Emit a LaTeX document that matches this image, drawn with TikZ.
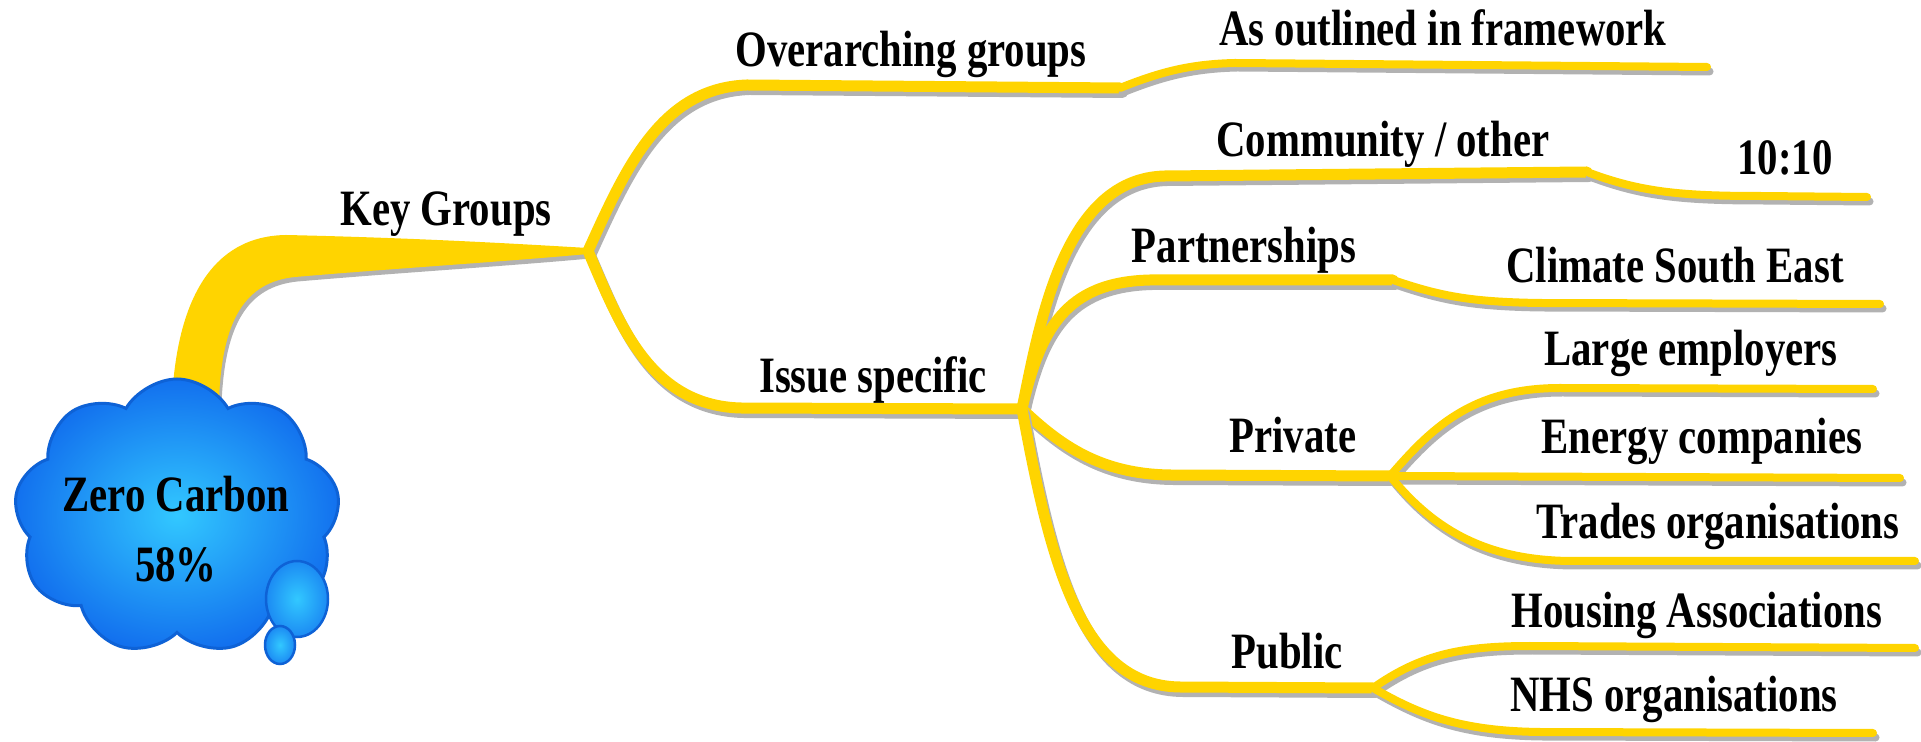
\documentclass[tikz,border=0pt]{standalone}
\usepackage{fontspec}
\setmainfont{Liberation Serif}[FakeStretch=0.8]
\usepackage{tikz}
\usetikzlibrary{shapes.symbols, shapes.geometric}
\definecolor{mapGold}{RGB}{255,212,0}
\definecolor{mapShadow}{RGB}{178,178,178}
\definecolor{cloudLight}{RGB}{50,200,255}
\definecolor{cloudDark}{RGB}{18,112,238}
\definecolor{cloudEdge}{RGB}{14,98,214}
\tikzset{
  mapline/.style={draw=mapGold, line width=#1, line cap=round,
    preaction={draw=mapShadow, line width=#1, line cap=round,
      transform canvas={shift={(0.25mm,-0.45mm)}}}},
  branch/.style={mapline=1.1mm},
  twig/.style={mapline=0.8mm},
  lbl/.style={anchor=base, inner sep=0pt, font=\bfseries\fontsize{14.5}{17}\selectfont},
  bubble/.style={ellipse, draw=cloudEdge, line width=0.25mm, inner sep=0pt,
    inner color=cloudLight, outer color=cloudDark!70!cloudLight}
}

\begin{document}
\begin{tikzpicture}[x=0.1mm, y=-0.1mm]
  \useasboundingbox (0,0) rectangle (1921,742);

  % junctions and line ends
  \coordinate (kg) at (588,251);
  \coordinate (og) at (1120,88);
  \coordinate (is) at (1022,409);
  \coordinate (co) at (1587,172);
  \coordinate (pa) at (1393,280);
  \coordinate (pv) at (1390,476);
  \coordinate (pb) at (1373,688);
  \coordinate (aoEnd) at (1707,67);
  \coordinate (ttEnd) at (1867,197);
  \coordinate (cseEnd) at (1880,304);
  \coordinate (leEnd) at (1873,389);
  \coordinate (ecEnd) at (1900,478);
  \coordinate (toEnd) at (1915,561);
  \coordinate (haEnd) at (1915,648);
  \coordinate (nhsEnd) at (1873,733);

  % main trunk from the cloud
  \fill[mapGold, preaction={fill=mapShadow, transform canvas={shift={(0.25mm,-0.45mm)}}}]
    (172,400) .. controls (177,300) and (212,236) .. (286,235)
    .. controls (420,238) and (520,244) .. (588,248) -- (588,254)
    .. controls (500,262) and (400,268) .. (295,277)
    .. controls (245,282) and (222,320) .. (219,400) -- cycle;

  % first level
  \draw[branch] (kg) .. controls (625,170) and (660,88) .. (747,85) -- (og);
  \draw[branch] (kg) .. controls (618,320) and (648,405) .. (740,408) -- (is);

  % second level
  \draw[branch] (is) .. controls (1040,320) and (1065,178) .. (1165,176) -- (co);
  \draw[branch] (is) .. controls (1040,330) and (1065,282) .. (1150,280) -- (pa);
  \draw[branch] (is) .. controls (1060,445) and (1100,474) .. (1170,475) -- (pv);
  \draw[branch] (is) .. controls (1050,560) and (1080,686) .. (1180,687) -- (pb);

  % leaves
  \draw[twig] (og) .. controls (1160,72) and (1190,64) .. (1235,63) -- (aoEnd);
  \draw[twig] (co) .. controls (1640,192) and (1680,196) .. (1760,196) -- (ttEnd);
  \draw[twig] (pa) .. controls (1440,296) and (1470,302) .. (1540,303) -- (cseEnd);
  \draw[twig] (pv) .. controls (1430,430) and (1470,388) .. (1560,388) -- (leEnd);
  \draw[twig] (pv) -- (ecEnd);
  \draw[twig] (pv) .. controls (1430,525) and (1480,560) .. (1570,561) -- (toEnd);
  \draw[twig] (pb) .. controls (1420,655) and (1460,646) .. (1530,646) -- (haEnd);
  \draw[twig] (pb) .. controls (1420,715) and (1460,731) .. (1540,732) -- (nhsEnd);

  % central cloud
  \node[cloud, cloud puffs=9, cloud puff arc=120, inner sep=0pt,
        minimum width=32.6mm, minimum height=27.6mm, draw=cloudEdge, line width=0.3mm,
        inner color=cloudLight, outer color=cloudDark] (zc) at (177,517) {};
  \node[align=center, font=\bfseries\fontsize{14.5}{19.9}\selectfont] (zcText) at (176,529) {Zero Carbon\\58\%};
  \node[bubble, minimum width=6.2mm, minimum height=7.6mm] (b1) at (297,599) {};
  \node[bubble, minimum width=3mm, minimum height=3.8mm] (b2) at (280,645) {};

  % labels
  \node[lbl] (keygroups) at (446,226) {Key Groups};
  \node[lbl] (overarching) at (911,67) {Overarching groups};
  \node[lbl] (outlined) at (1443,46) {As outlined in framework};
  \node[lbl] (issue) at (873,393) {Issue specific};
  \node[lbl] (community) at (1383,157) {Community / other};
  \node[lbl] (tenten) at (1785,175) {10:10};
  \node[lbl] (partner) at (1244,263) {Partnerships};
  \node[lbl] (climate) at (1675,283) {Climate South East};
  \node[lbl] (private) at (1293,453) {Private};
  \node[lbl] (large) at (1691,366) {Large employers};
  \node[lbl] (energy) at (1702,454) {Energy companies};
  \node[lbl] (trades) at (1718,539) {Trades organisations};
  \node[lbl] (public) at (1287,669) {Public};
  \node[lbl] (housing) at (1697,628) {Housing Associations};
  \node[lbl] (nhs) at (1674,711) {NHS organisations};
\end{tikzpicture}
\end{document}
